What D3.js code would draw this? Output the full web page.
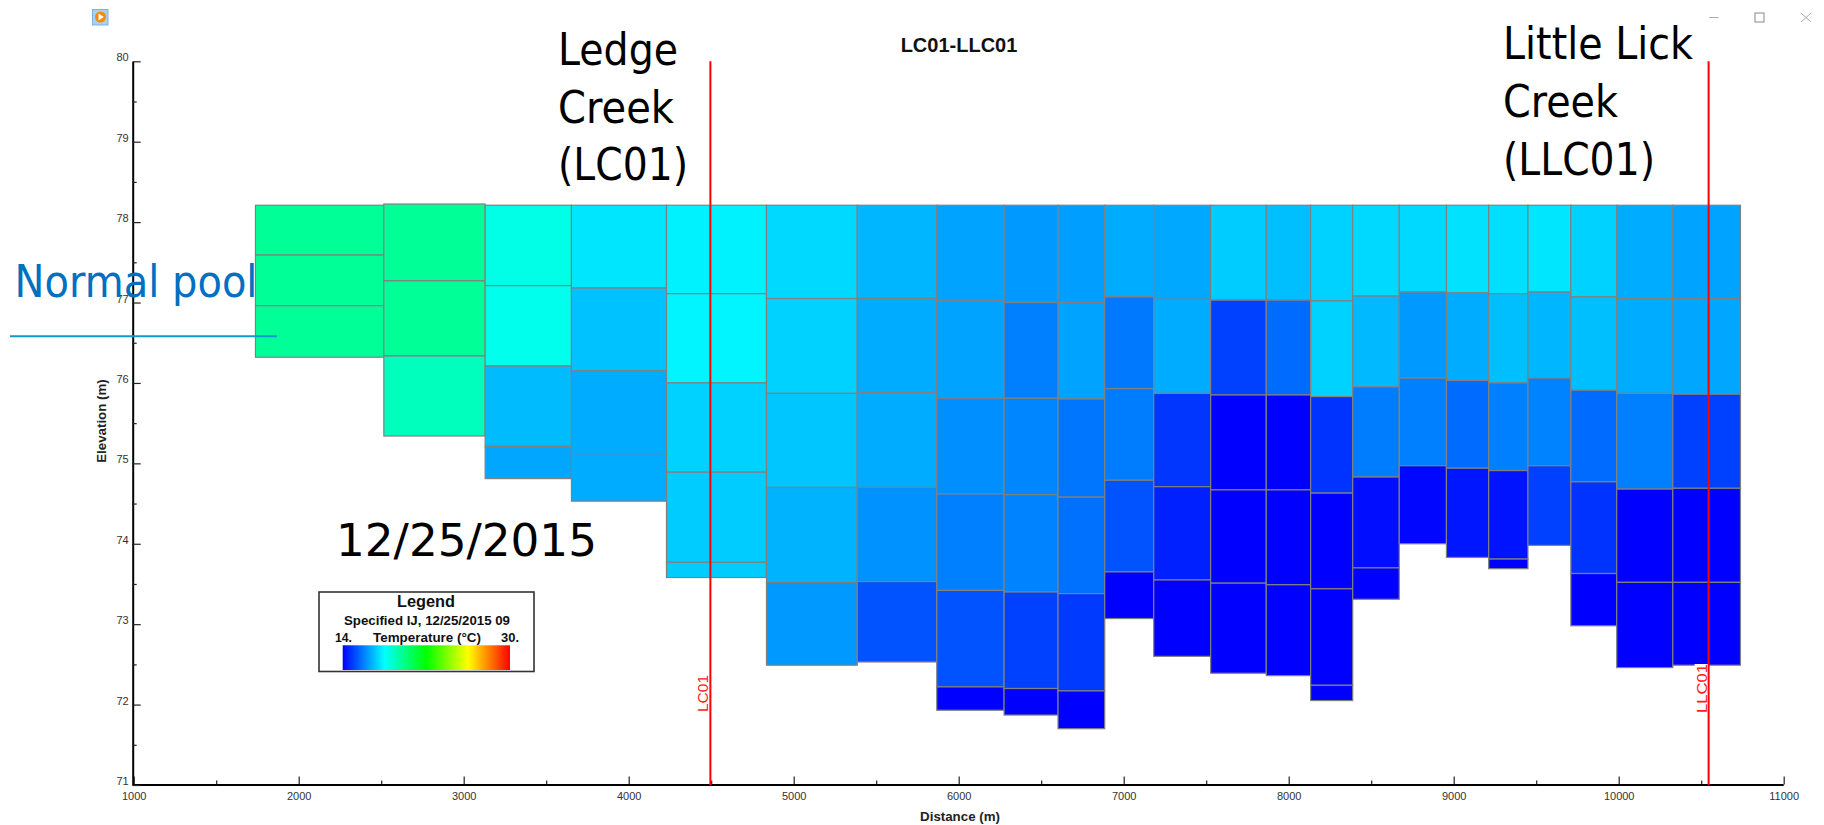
<!DOCTYPE html>
<html>
<head>
<meta charset="utf-8">
<script src="https://cdn.jsdelivr.net/npm/d3@7"></script>
<style>
html,body{margin:0;padding:0;background:#fff;overflow:hidden}
svg{display:block}
text{font-family:"Liberation Sans",Arial,sans-serif}
.big{font-family:"DejaVu Sans",sans-serif;font-size:44px;fill:#000}
.axis path{stroke:#000;stroke-width:2px}
.axis line{stroke:#222;stroke-width:1.2px}
.axis text{font-size:11px;fill:#333;font-family:"Liberation Sans",Arial,sans-serif}
</style>
</head>
<body>
<svg id="chart" width="1824" height="825"></svg>
<script>
// Column edges along the section (m)
const columnEdges = [1738,2516,3130,3653,4229,4835,5385,5867,6275,6602,6885,7182,7527,7864,8133,8388,8670,8956,9212,9450,9710,9988,10328,10738];

// Layer boundaries of each column, top to bottom (m)
const layerElevations = [
 [78.21,77.59,76.96,76.32],
 [78.225,77.27,76.335,75.34],
 [78.21,77.21,76.21,75.21,74.81],
 [78.21,77.18,76.15,75.12,74.53],
 [78.21,77.11,76.00,74.89,73.77,73.58],
 [78.21,77.05,75.87,74.70,73.52,72.49],
 [78.21,77.05,75.88,74.70,73.53,72.53],
 [78.21,77.02,75.81,74.62,73.42,72.22,71.93],
 [78.21,77.00,75.81,74.61,73.40,72.20,71.87],
 [78.21,77.00,75.80,74.58,73.38,72.17,71.70],
 [78.21,77.07,75.93,74.79,73.65,73.07],
 [78.21,77.04,75.87,74.71,73.55,72.60],
 [78.21,77.03,75.85,74.67,73.51,72.39],
 [78.21,77.03,75.85,74.67,73.49,72.36],
 [78.21,77.02,75.83,74.63,73.44,72.24,72.05],
 [78.21,77.08,75.95,74.83,73.70,73.31],
 [78.21,77.13,76.06,74.97,74.00],
 [78.21,77.12,76.03,74.94,73.83],
 [78.21,77.11,76.00,74.91,73.81,73.69],
 [78.21,77.13,76.06,74.97,73.98],
 [78.21,77.07,75.91,74.77,73.63,72.98],
 [78.21,77.05,75.87,74.68,73.52,72.46],
 [78.21,77.05,75.86,74.69,73.52,72.49]
];

// Temperature of each layer (deg C)
const layerTemps = [
 [19.65,19.65,19.65],
 [19.65,19.65,19.05],
 [18.4,18.3,16.95,16.6],
 [17.6,17.05,16.7,16.7],
 [17.8,17.85,17.3,17.2,17.2],
 [17.4,17.3,17.1,16.8,16.4],
 [16.85,16.7,16.7,16.3,15.3],
 [16.55,16.55,16.25,16.0,15.3,14],
 [16.4,16.0,16.1,16.05,15.0,14],
 [16.5,16.55,15.85,15.75,14.9,14],
 [16.7,15.9,15.95,15.3,14],
 [16.65,16.7,14.85,14.5,14],
 [17.2,15.0,14,14,14],
 [17.0,15.7,14,14,14],
 [17.3,17.3,14.8,14,14,14],
 [17.4,16.9,15.95,14.2,14],
 [17.4,16.4,16.0,14.1],
 [17.55,16.7,15.7,14.35],
 [17.5,17.0,16.0,14.3,14],
 [17.6,16.85,16.05,15.0],
 [17.3,17.0,15.7,14.8,14],
 [16.7,16.7,16.0,14,14],
 [16.55,16.6,15.0,14,14]
];

const xMajorTicks = [1000,2000,3000,4000,5000,6000,7000,8000,9000,10000,11000];
const xMinorTicks = [1500,2500,3500,4500,5500,6500,7500,8500,9500,10500];
const yMajorTicks = [71,72,73,74,75,76,77,78,79,80];
const yMinorTicks = [71.5,72.5,73.5,74.5,75.5,76.5,77.5,78.5,79.5];
const tempStops = [14,18,22,26,30];
const tempColors = ["#0000ff","#00ffff","#00ff00","#ffff00","#ff0000"];
const stations = [{name:"LC01",distance:4495},{name:"LLC01",distance:10545}];
const normalPool = {elevation:76.58,from:250,to:1868};

const svg = d3.select("#chart");
const x = d3.scaleLinear().domain([1000,11000]).range([133.7,1783.7]);
const y = d3.scaleLinear().domain([71,80]).range([785,61.3]);
const color = d3.scaleLinear().domain(tempStops).range(tempColors);

// Cells
const cells = [];
layerTemps.forEach((temps,c)=>temps.forEach((t,l)=>cells.push({
  x0:columnEdges[c],x1:columnEdges[c+1],
  top:layerElevations[c][l],bottom:layerElevations[c][l+1],t})));
svg.append("g").selectAll("rect").data(cells).join("rect")
  .attr("x",d=>x(d.x0)).attr("width",d=>x(d.x1)-x(d.x0))
  .attr("y",d=>y(d.top)).attr("height",d=>y(d.bottom)-y(d.top))
  .attr("fill",d=>color(d.t))
  .attr("stroke","#808080").attr("stroke-width",1.2);

// Axes
const axisY = y(71)-0.5, axisX = x(1000)-1;
const gx = svg.append("g").attr("class","axis").attr("transform",`translate(0,${axisY})`);
gx.call(d3.axisBottom(x).tickValues(xMajorTicks).tickFormat(d3.format("d")).tickSize(-8).tickSizeOuter(0).tickPadding(8));
gx.select(".domain").attr("d",`M${axisX},0.5H${x(11000)}`);
svg.append("g").attr("class","axis").attr("transform",`translate(0,${axisY})`)
  .call(d3.axisBottom(x).tickValues(xMinorTicks).tickFormat("").tickSize(-4).tickSizeOuter(0))
  .select(".domain").remove();
const gy = svg.append("g").attr("class","axis").attr("transform",`translate(${axisX},0)`);
gy.call(d3.axisLeft(y).tickValues(yMajorTicks).tickFormat(d3.format("d")).tickSize(-8).tickSizeOuter(0).tickPadding(4));
gy.selectAll("text").attr("y",-4);
svg.append("g").attr("class","axis").attr("transform",`translate(${axisX},0)`)
  .call(d3.axisLeft(y).tickValues(yMinorTicks).tickFormat("").tickSize(-4).tickSizeOuter(0))
  .select(".domain").remove();

// Stations
svg.append("rect").attr("x",x(10545)-14).attr("y",664).attr("width",14).attr("height",50).attr("fill","#fff");
svg.append("g").selectAll("line").data(stations).join("line")
  .attr("x1",d=>x(d.distance)).attr("x2",d=>x(d.distance))
  .attr("y1",y(80)).attr("y2",y(71))
  .attr("stroke","#ff0000").attr("stroke-width",2);
svg.append("g").selectAll("text").data(stations).join("text")
  .text(d=>d.name)
  .attr("transform",d=>`translate(${x(d.distance)-2},${d.name==="LC01"?712:713}) rotate(-90)`)
  .attr("fill","#ff2020").attr("font-size",15)
  .attr("textLength",d=>d.name==="LC01"?37:49).attr("lengthAdjust","spacingAndGlyphs");

// Titles
svg.append("text").text("LC01-LLC01").attr("x",959).attr("y",52).attr("text-anchor","middle")
  .attr("font-weight","bold").attr("font-size",20).attr("fill","#111");
svg.append("text").text("Distance (m)").attr("x",960).attr("y",820.5).attr("text-anchor","middle")
  .attr("font-weight","bold").attr("font-size",13.3).attr("fill","#222");
svg.append("text").text("Elevation (m)").attr("transform","translate(106,421) rotate(-90)").attr("text-anchor","middle")
  .attr("font-weight","bold").attr("font-size",13.3).attr("fill","#222");

// Annotations
const bigText = (s,xp,yp,w,fill)=>svg.append("text").attr("class","big").text(s)
  .attr("x",xp).attr("y",yp).attr("textLength",w).attr("lengthAdjust","spacingAndGlyphs")
  .style("fill",fill||"#000");
bigText("Ledge",558,65,120);
bigText("Creek",558,122.7,116);
bigText("(LC01)",558,180,130);
bigText("Little Lick",1503,59,190);
bigText("Creek",1503,117,115);
bigText("(LLC01)",1503,175,152);
bigText("12/25/2015",336,555.7,261);
bigText("Normal pool",14.5,296.7,243,"#0070c0");
svg.append("line")
  .attr("x1",x(normalPool.from)).attr("x2",x(normalPool.to))
  .attr("y1",y(normalPool.elevation)).attr("y2",y(normalPool.elevation))
  .attr("stroke","#0e9ad0").attr("stroke-width",2);

// Legend
const grad = svg.append("defs").append("linearGradient").attr("id","tempGrad");
grad.selectAll("stop").data(tempStops).join("stop")
  .attr("offset",d=>(d-14)/16).attr("stop-color",d=>color(d));
svg.append("rect").attr("x",319).attr("y",592).attr("width",215).attr("height",79.5)
  .attr("fill","#fff").attr("stroke","#333").attr("stroke-width",1.6);
const legendText = (s,xp,yp,size,w,weight)=>svg.append("text").text(s).attr("x",xp).attr("y",yp)
  .attr("font-size",size).attr("font-weight",weight||"bold").attr("fill","#111")
  .attr("textLength",w).attr("lengthAdjust","spacingAndGlyphs");
legendText("Legend",397,607,16,58);
legendText("Specified IJ, 12/25/2015 09",344,625,13,166);
legendText("14.",335,641.7,13,17);
legendText("Temperature (°C)",373,641.7,13,108);
legendText("30.",501,641.7,13,18);
svg.append("rect").attr("x",342.7).attr("y",645.3).attr("width",167.3).attr("height",24.7).attr("fill","url(#tempGrad)");

// Window chrome
svg.append("rect").attr("x",92.5).attr("y",9.5).attr("width",15.5).attr("height",15.5).attr("fill","#a9d0ee").attr("stroke","#7fb2dc");
svg.append("circle").attr("cx",100.5).attr("cy",17).attr("r",5.5).attr("fill","#f58a07");
svg.append("path").attr("d","M98.5,13.5L103.8,17L98.5,20.5Z").attr("fill","#fff");
svg.append("line").attr("x1",1709).attr("x2",1718.5).attr("y1",17.5).attr("y2",17.5).attr("stroke","#aaa");
svg.append("rect").attr("x",1755).attr("y",13).attr("width",9).attr("height",9).attr("fill","none").attr("stroke","#888");
svg.append("path").attr("d","M1801,13L1811,22M1811,13L1801,22").attr("fill","none").attr("stroke","#aaa");
</script>
</body>
</html>
